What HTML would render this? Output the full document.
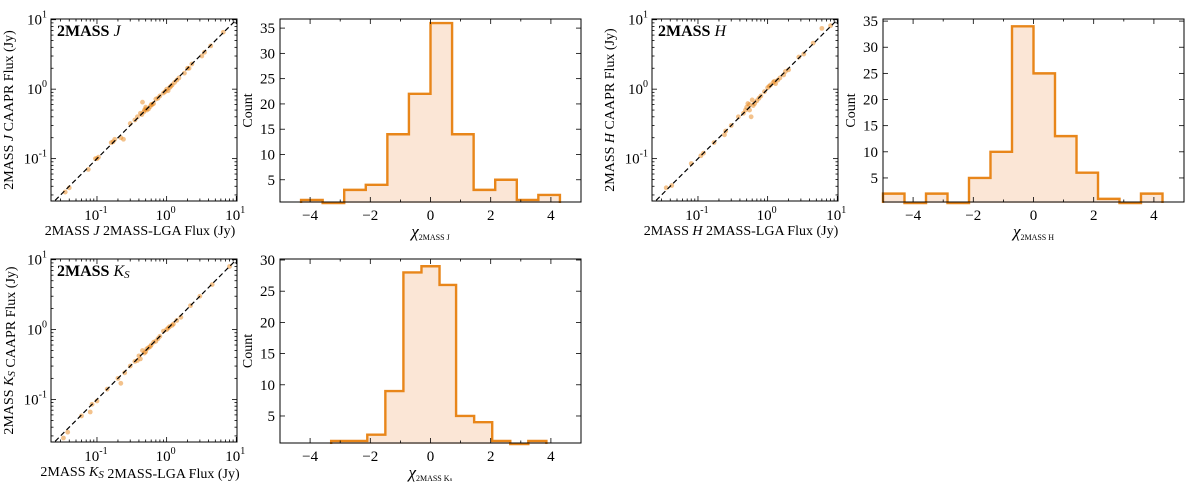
<!DOCTYPE html>
<html><head><meta charset="utf-8">
<style>
html,body{margin:0;padding:0;background:#fff;}
svg{display:block;font-family:"Liberation Serif",serif;}
</style></head>
<body>
<svg id="fig" width="1200" height="483" viewBox="0 0 1200 483" xmlns="http://www.w3.org/2000/svg"></svg>
<script>
// ---- data ----
const jScatterX=[0.035,0.04,0.075,0.095,0.1,0.105,0.16,0.17,0.18,0.22,0.24,0.3,0.35,0.38,0.42,0.45,0.48,0.5,0.55,0.6,0.65,0.7,0.8,0.9,1.0,1.1,1.2,1.3,1.5,1.8,2.1,2.3,3.2,4.3,6.5,0.47,0.52,1.05,0.58,0.62,0.75,0.95,1.15,1.4,0.44,0.5,2.0,3.5];
const jScatterY=[0.033,0.038,0.07,0.1,0.1,0.105,0.17,0.175,0.19,0.2,0.19,0.32,0.36,0.4,0.45,0.65,0.5,0.55,0.52,0.6,0.62,0.72,0.8,0.88,1.0,1.05,1.15,1.25,1.45,1.7,2.0,2.3,3.0,4.2,6.6,0.47,0.5,0.95,0.56,0.6,0.74,0.92,1.1,1.35,0.43,0.52,2.0,3.4];
const hScatterX=[0.035,0.042,0.08,0.11,0.12,0.17,0.24,0.3,0.38,0.45,0.5,0.52,0.55,0.58,0.6,0.65,0.7,0.8,0.9,1.0,1.1,1.2,1.3,1.5,1.7,2.0,2.8,3.3,6.0,8.0,0.48,0.55,0.62,0.75,1.05,1.25,1.4,1.8,0.25,4.5];
const hScatterY=[0.038,0.041,0.085,0.11,0.12,0.17,0.22,0.3,0.4,0.45,0.55,0.62,0.5,0.4,0.7,0.62,0.68,0.8,0.92,1.05,1.15,1.25,1.2,1.45,1.6,1.9,2.9,3.2,7.5,8.2,0.5,0.6,0.58,0.74,1.1,1.3,1.35,1.8,0.25,4.6];
const kScatterX=[0.033,0.038,0.06,0.08,0.085,0.1,0.14,0.2,0.22,0.25,0.3,0.35,0.4,0.45,0.5,0.55,0.6,0.7,0.8,0.9,1.0,1.1,1.2,1.4,1.6,2.2,3.0,4.5,8.0,0.42,0.48,0.52,0.65,0.75,1.05,1.25,0.38,0.58];
const kScatterY=[0.028,0.034,0.058,0.066,0.085,0.095,0.14,0.2,0.17,0.24,0.3,0.35,0.42,0.5,0.48,0.55,0.6,0.68,0.8,0.95,1.0,1.1,1.15,1.35,1.5,2.2,3.0,4.4,8.0,0.38,0.46,0.53,0.66,0.74,1.05,1.2,0.36,0.57];

const jEdges=[-4.3,-3.583,-2.867,-2.15,-1.433,-0.717,0,0.717,1.433,2.15,2.867,3.583,4.3];
const jCounts=[1,0,3,4,14,22,36,14,3,5,1,2];
const hEdges=[-5.0,-4.286,-3.571,-2.857,-2.143,-1.429,-0.714,0,0.714,1.429,2.143,2.857,3.571,4.286];
const hCounts=[2,0,2,0,5,10,34,25,13,6,1,0,2];
const kEdges=[-3.3,-2.7,-2.1,-1.5,-0.9,-0.3,0.3,0.85,1.45,2.05,2.65,3.25,3.85];
const kCounts=[1,1,2,9,28,29,26,5,4,1,0,1];

const histXTicks=[-4,-2,0,2,4];
const jYTicks=[5,10,15,20,25,30,35];
const hYTicks=[5,10,15,20,25,30,35];
const kYTicks=[5,10,15,20,25,30];
const logTicks=[-1,0,1];

const NS="http://www.w3.org/2000/svg";
const svg=document.getElementById('fig');
function el(tag,attrs,parent){const e=document.createElementNS(NS,tag);for(const k in attrs)e.setAttribute(k,attrs[k]);(parent||svg).appendChild(e);return e;}
const ORANGE="#e8861a";

function scatterPanel(name,L,T,W,H,xs,ys,band){
  const g=el('g',{});
  
  
  const xmin=-1.66,xmax=1.01,ymin=-1.61,ymax=1.01;
  const sx=v=>L+(Math.log10(v)-xmin)/(xmax-xmin)*W;
  const sy=v=>T+H-(Math.log10(v)-ymin)/(ymax-ymin)*H;
  for(let i=0;i<xs.length;i++){
    const c=el('circle',{cx:sx(xs[i]),cy:sy(ys[i]),r:2.4,fill:ORANGE,'fill-opacity':0.5},g);
    
    
  }
  const a=Math.pow(10,-1.6),b=Math.pow(10,0.99);
  const ln=el('line',{x1:sx(a),y1:sy(a),x2:sx(b),y2:sy(b),stroke:'#000','stroke-width':1.2,'stroke-dasharray':'5,3'},g);
  
  
  el('rect',{x:L,y:T,width:W,height:H,fill:'none',stroke:'#000','stroke-width':1},g);
  for(let d=-2;d<=1;d++){
    for(let m=1;m<=9;m++){
      const v=m*Math.pow(10,d),lv=Math.log10(v);
      const len=m===1?5:2.5;
      if(lv>=xmin&&lv<=xmax){const x=sx(v);
        el('line',{x1:x,y1:T+H,x2:x,y2:T+H-len,stroke:'#000','stroke-width':0.8},g);
        el('line',{x1:x,y1:T,x2:x,y2:T+len,stroke:'#000','stroke-width':0.8},g);}
      if(lv>=ymin&&lv<=ymax){const y=sy(v);
        el('line',{x1:L,y1:y,x2:L+len,y2:y,stroke:'#000','stroke-width':0.8},g);
        el('line',{x1:L+W,y1:y,x2:L+W-len,y2:y,stroke:'#000','stroke-width':0.8},g);}
    }
  }
  for(const t of logTicks){
    const xt=el('text',{x:sx(Math.pow(10,t))-1,y:T+H+19,'font-size':15,'text-anchor':'middle'},g);
    
    
    xt.innerHTML='10<tspan dy="-7" font-size="10">'+t+'</tspan>';
    const yt=el('text',{x:L-4,y:sy(Math.pow(10,t))+5,'font-size':15,'text-anchor':'end'},g);
    
    
    yt.innerHTML='10<tspan dy="-7" font-size="10">'+t+'</tspan>';
  }
  const title=el('text',{x:L+6,y:T+17,'font-size':16},g);
  
  
  title.innerHTML='<tspan font-weight="bold">2MASS</tspan> <tspan font-style="italic">'+band+'</tspan>';
  const xl=el('text',{x:L+W/2-4,y:T+H+34,'font-size':14,'text-anchor':'middle'},g);
  
  
  xl.innerHTML='2MASS <tspan font-style="italic">'+band+'</tspan> 2MASS-LGA Flux (Jy)';
  const yl=el('text',{x:0,y:0,'font-size':14,'text-anchor':'middle',transform:'translate('+(L-38)+','+(T+H/2)+') rotate(-90)'},g);
  
  
  yl.innerHTML='2MASS <tspan font-style="italic">'+band+'</tspan> CAAPR Flux (Jy)';
}

function histPanel(name,L,T,W,H,edges,counts,ymin,ymax,yTicks,sub){
  const g=el('g',{});
  
  
  const sx=v=>L+(v+5)/10*W;
  const sy=v=>T+H-(v-ymin)/(ymax-ymin)*H;
  const base=T+H+1;
  let d='M'+sx(edges[0])+','+base;
  for(let i=0;i<counts.length;i++){
    const y=counts[i]>0?sy(counts[i]):base;
    d+=' L'+sx(edges[i])+','+y+' L'+sx(edges[i+1])+','+y;}
  d+=' L'+sx(edges[edges.length-1])+','+base;
  const fill=el('path',{d:d+' Z',fill:'#fbe6d6',stroke:'none'},g);
  
  
  for(let i=0;i<counts.length;i++){
    const bar=el('rect',{x:sx(edges[i]),y:sy(counts[i]),width:sx(edges[i+1])-sx(edges[i]),height:Math.max(0,base-sy(counts[i])),fill:'none',stroke:'none'},g);
    
    
  }
  const st=el('path',{d:d,fill:'none',stroke:ORANGE,'stroke-width':2.4},g);
  
  
  el('rect',{x:L,y:T,width:W,height:H,fill:'none',stroke:'#000','stroke-width':1},g);
  for(let v=-5;v<=5;v+=1){const x=sx(v),len=v%2===0?5:2.5;
    el('line',{x1:x,y1:T+H,x2:x,y2:T+H-len,stroke:'#000','stroke-width':0.8},g);
    el('line',{x1:x,y1:T,x2:x,y2:T+len,stroke:'#000','stroke-width':0.8},g);}
  for(const t of histXTicks){
    const tx=el('text',{x:sx(t),y:T+H+18,'font-size':15,'text-anchor':'middle'},g);
    
    
    tx.textContent=(t<0?'\u2212'+(-t):''+t);
  }
  for(const t of yTicks){const y=sy(t);
    el('line',{x1:L,y1:y,x2:L+5,y2:y,stroke:'#000','stroke-width':0.8},g);
    el('line',{x1:L+W,y1:y,x2:L+W-5,y2:y,stroke:'#000','stroke-width':0.8},g);
    const ty=el('text',{x:L-5,y:y+5,'font-size':15,'text-anchor':'end'},g);
    
    
    ty.textContent=t;}
  const yl=el('text',{x:0,y:0,'font-size':14,'text-anchor':'middle',transform:'translate('+(L-28)+','+(T+H/2)+') rotate(-90)'},g);
  
  
  yl.textContent='Count';
  const xl=el('text',{x:sx(0),y:T+H+35,'font-size':17,'text-anchor':'middle'},g);
  
  
  xl.innerHTML='<tspan font-style="italic">\u03C7</tspan><tspan font-size="8" dy="3">'+sub+'</tspan>';
}

scatterPanel('j-band',51,19,186,182,jScatterX,jScatterY,'J');
histPanel('j-band',280,19,301,183,jEdges,jCounts,0.6,36.8,jYTicks,'2MASS J');
scatterPanel('h-band',652,19,186,182,hScatterX,hScatterY,'H');
histPanel('h-band',883,19,301,183,hEdges,hCounts,0.4,35.4,hYTicks,'2MASS H');
scatterPanel('ks-band',51,259,186,183,kScatterX,kScatterY,'K<tspan font-size="11" dy="2">S</tspan>');
histPanel('ks-band',280,259,301,184,kEdges,kCounts,0.67,30.16,kYTicks,'2MASS K\u209B');
</script>
</body></html>
